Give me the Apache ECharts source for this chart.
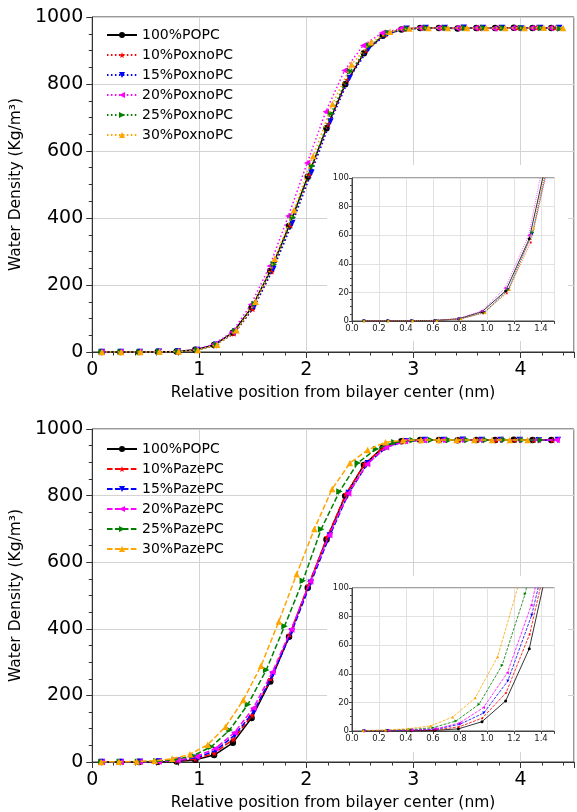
<!DOCTYPE html>
<html>
<head>
<meta charset="utf-8">
<script src="https://cdn.jsdelivr.net/npm/echarts@6/dist/echarts.min.js"></script>
<style>
  html, body { margin: 0; padding: 0; background: #fff; }
  #chart { width: 577px; height: 812px; }
</style>
</head>
<body>
<div id="chart"></div>
<script>
// ---- data ----
const xLabel = 'Relative position from bilayer center (nm)';
const yLabel = 'Water Density (Kg/m³)';

const namesTop = ['100%POPC', '10%PoxnoPC', '15%PoxnoPC', '20%PoxnoPC', '25%PoxnoPC', '30%PoxnoPC'];
const namesBottom = ['100%POPC', '10%PazePC', '15%PazePC', '20%PazePC', '25%PazePC', '30%PazePC'];

const xPOPC = [0.088, 0.263, 0.438, 0.613, 0.788, 0.963, 1.138, 1.313, 1.488, 1.663, 1.838, 2.013, 2.188, 2.363, 2.538, 2.713, 2.888, 3.063, 3.238, 3.413, 3.588, 3.763, 3.938, 4.113, 4.288];
const yPOPC = [0.1, 0.1, 0.2, 0.4, 1.5, 6.5, 21, 57.5, 132, 242, 376, 523, 668, 799, 892, 944, 963, 967, 967, 966, 967, 967, 968, 967, 967];

// oxidised (PoxnoPC) series
const x10ox = [0.088, 0.265, 0.441, 0.618, 0.794, 0.971, 1.147, 1.324, 1.500, 1.677, 1.853, 2.030, 2.206, 2.383, 2.559, 2.736, 2.912, 3.089, 3.265, 3.442, 3.618, 3.795, 3.971, 4.148, 4.324];
const y10ox = [0.1, 0.1, 0.2, 0.4, 1.3, 5.5, 19.5, 55, 128, 240, 378, 528, 680, 812, 900, 948, 964, 967, 967, 967, 966, 967, 967, 968, 967];
const x15ox = [0.089, 0.267, 0.445, 0.623, 0.801, 0.979, 1.157, 1.335, 1.513, 1.691, 1.869, 2.047, 2.225, 2.403, 2.581, 2.759, 2.937, 3.115, 3.293, 3.471, 3.649, 3.827, 4.005, 4.183, 4.361];
const y15ox = [0.1, 0.1, 0.2, 0.4, 1.4, 6, 22, 61, 135, 248, 385, 535, 688, 818, 905, 950, 965, 967, 967, 968, 967, 967, 966, 967, 967];
const x20ox = [0.087, 0.262, 0.436, 0.611, 0.785, 0.960, 1.134, 1.309, 1.483, 1.658, 1.832, 2.007, 2.181, 2.356, 2.530, 2.705, 2.879, 3.054, 3.228, 3.403, 3.577, 3.752, 3.926, 4.101, 4.275];
const y20ox = [0.1, 0.1, 0.2, 0.4, 1.6, 7, 23, 60, 142, 257, 406, 564, 717, 840, 915, 952, 965, 967, 967, 967, 967, 966, 967, 967, 967];
const x25ox = [0.089, 0.268, 0.446, 0.625, 0.803, 0.982, 1.160, 1.339, 1.517, 1.696, 1.874, 2.053, 2.231, 2.410, 2.588, 2.767, 2.945, 3.124, 3.302, 3.481, 3.659, 3.838, 4.016, 4.195, 4.373];
const y25ox = [0.1, 0.1, 0.2, 0.4, 1.5, 6, 22, 62, 143, 262, 402, 555, 712, 838, 915, 953, 965, 967, 967, 967, 968, 967, 967, 967, 966];
const x30ox = [0.090, 0.269, 0.449, 0.628, 0.808, 0.987, 1.167, 1.346, 1.526, 1.705, 1.885, 2.064, 2.244, 2.423, 2.603, 2.782, 2.962, 3.141, 3.321, 3.500, 3.680, 3.859, 4.039, 4.218, 4.398];
const y30ox = [0.1, 0.1, 0.2, 0.4, 1.6, 6, 22, 65, 150, 278, 424, 585, 740, 858, 925, 956, 966, 967, 967, 967, 967, 967, 967, 968, 967];

// azelaoyl (PazePC) series
const x10az = [0.088, 0.263, 0.439, 0.614, 0.790, 0.965, 1.141, 1.316, 1.492, 1.667, 1.843, 2.018, 2.194, 2.369, 2.545, 2.720, 2.896, 3.071, 3.247, 3.422, 3.598, 3.773, 3.949, 4.124, 4.300];
const y10az = [0.1, 0.2, 0.4, 0.8, 2.8, 9, 26.7, 67.7, 140, 250, 382, 530, 675, 805, 895, 945, 963, 967, 967, 967, 968, 967, 967, 967, 966];
const x15az = [0.089, 0.266, 0.444, 0.621, 0.799, 0.976, 1.154, 1.331, 1.509, 1.686, 1.864, 2.041, 2.219, 2.396, 2.574, 2.751, 2.929, 3.106, 3.284, 3.461, 3.639, 3.816, 3.994, 4.171, 4.349];
const y15az = [0.2, 0.3, 0.6, 1.2, 4.7, 12.6, 35, 81, 152, 262, 392, 538, 680, 808, 897, 946, 963, 967, 967, 968, 967, 967, 967, 966, 967];
const x20az = [0.089, 0.266, 0.443, 0.620, 0.797, 0.974, 1.151, 1.328, 1.505, 1.682, 1.859, 2.036, 2.213, 2.390, 2.567, 2.744, 2.921, 3.098, 3.275, 3.452, 3.629, 3.806, 3.983, 4.160, 4.337];
const y20az = [0.2, 0.3, 0.7, 1.5, 5.6, 16.4, 40.7, 88, 162, 270, 398, 542, 682, 806, 895, 945, 963, 966, 967, 967, 967, 968, 967, 967, 967];
const x25az = [0.086, 0.257, 0.428, 0.599, 0.770, 0.941, 1.112, 1.283, 1.454, 1.625, 1.796, 1.967, 2.138, 2.309, 2.480, 2.651, 2.822, 2.993, 3.164, 3.335, 3.506, 3.677, 3.848, 4.019, 4.190];
const y25az = [0.2, 0.5, 1.0, 2.3, 7, 18.7, 46, 96, 173, 276, 408, 544, 699, 812, 898, 940, 960, 966, 967, 967, 967, 967, 968, 967, 967];
const x30az = [0.083, 0.249, 0.415, 0.581, 0.747, 0.913, 1.079, 1.245, 1.411, 1.577, 1.743, 1.909, 2.075, 2.241, 2.407, 2.573, 2.739, 2.905, 3.071, 3.237, 3.403, 3.569, 3.735, 3.901, 4.067];
const y30az = [0.3, 0.7, 1.6, 3.5, 9.8, 23.2, 52, 106, 186, 289, 422, 564, 700, 820, 898, 937, 960, 966, 967, 967, 967, 967, 967, 967, 967];

// ---- styles ----
const FONT = 'DejaVu Sans';
const colors = ['#000000', '#ff0000', '#0000ff', '#ff00ff', '#008000', '#ffa500'];
const STAR = 'path://M5,0L6.2,3.6L10,3.8L7,6.1L8.1,9.8L5,7.6L1.9,9.8L3,6.1L0,3.8L3.8,3.6Z';
const symbols = ['circle', STAR, 'path://M0,0L10,0L5,10Z', 'path://M10,0L10,10L0,5Z', 'path://M0,0L0,10L10,5Z', 'triangle'];

const panels = [
  { main: 0, inset: 1, names: namesTop, dash: 'dot',
    xs: [xPOPC, x10ox, x15ox, x20ox, x25ox, x30ox],
    ys: [yPOPC, y10ox, y15ox, y20ox, y25ox, y30ox] },
  { main: 2, inset: 3, names: namesBottom, dash: 'dash',
    xs: [xPOPC, x10az, x15az, x20az, x25az, x30az],
    ys: [yPOPC, y10az, y15az, y20az, y25az, y30az] }
];

function pairs(xs, ys) { return xs.map((x, i) => [x, ys[i]]); }

function lineType(dash, i, w) {
  if (i === 0) return 'solid';
  return dash === 'dot' ? [w, w * 1.65] : [w * 3.7, w * 1.6];
}

const chart = echarts.init(document.getElementById('chart'), null, { renderer: 'canvas' });

const grids = [
  { left: 92, top: 17, width: 486, height: 335, show: true, borderColor: '#333', borderWidth: 1 },
  { left: 352, top: 178, width: 202.5, height: 143, show: true, borderColor: '#444', borderWidth: 1, backgroundColor: '#fff', z: 3 },
  { left: 92, top: 429, width: 486, height: 335, show: true, borderColor: '#333', borderWidth: 1 },
  { left: 352, top: 588, width: 202.5, height: 143, show: true, borderColor: '#444', borderWidth: 1, backgroundColor: '#fff', z: 3 }
];

const xAxes = [], yAxes = [], series = [];

panels.forEach(p => {
  // main axes
  xAxes.push({
    type: 'value', gridIndex: p.main, min: 0, max: 4.5, interval: 1,
    name: xLabel, nameLocation: 'middle', nameGap: 33,
    nameTextStyle: { fontFamily: FONT, fontSize: 15.5, color: '#000' },
    axisLine: { onZero: false, lineStyle: { color: '#333', width: 1 } },
    axisTick: { length: 6, lineStyle: { color: '#333' } },
    minorTick: { show: true, splitNumber: 5, length: 3.5, lineStyle: { color: '#333' } },
    axisLabel: { fontFamily: FONT, fontSize: 19, color: '#000', margin: 9,
      formatter: v => Number.isInteger(v) ? String(v) : '' },
    splitLine: { show: true, lineStyle: { color: '#d3d3d3', width: 1 } }
  });
  yAxes.push({
    type: 'value', gridIndex: p.main, min: 0, max: 1000, interval: 200,
    name: yLabel, nameLocation: 'middle', nameGap: 58,
    nameTextStyle: { fontFamily: FONT, fontSize: 15.5, color: '#000' },
    axisLine: { show: true, lineStyle: { color: '#333', width: 1 } },
    axisTick: { show: true, length: 6, lineStyle: { color: '#333' } },
    minorTick: { show: true, splitNumber: 4, length: 3.5, lineStyle: { color: '#333' } },
    axisLabel: { fontFamily: FONT, fontSize: 19, color: '#000', margin: 9,
      formatter: v => String(v) },
    splitLine: { show: true, lineStyle: { color: '#d3d3d3', width: 1 } }
  });
  // inset axes
  xAxes.push({
    type: 'value', gridIndex: p.inset, min: 0, max: 1.5, interval: 0.2, z: 3,
    axisLine: { onZero: false, lineStyle: { color: '#444', width: 1 } },
    axisTick: { length: 3, lineStyle: { color: '#444' } },
    axisLabel: { fontFamily: FONT, fontSize: 8.5, color: '#222', margin: 3,
      formatter: v => Math.abs(v * 5 - Math.round(v * 5)) < 1e-6 ? v.toFixed(1) : '' },
    splitLine: { show: true, lineStyle: { color: '#e2e2e2', width: 1 } }
  });
  yAxes.push({
    type: 'value', gridIndex: p.inset, min: 0, max: 100, interval: 20, z: 3,
    axisLine: { show: true, lineStyle: { color: '#444', width: 1 } },
    axisTick: { show: true, length: 3, lineStyle: { color: '#444' } },
    minorTick: { show: true, splitNumber: 4, length: 2, lineStyle: { color: '#444' } },
    axisLabel: { fontFamily: FONT, fontSize: 8.5, color: '#222', margin: 3 },
    splitLine: { show: true, lineStyle: { color: '#e2e2e2', width: 1 } }
  });
});

panels.forEach((p, pi) => {
  const axMain = pi * 2, axInset = pi * 2 + 1;
  p.names.forEach((name, i) => {
    series.push({
      type: 'line', name: name, xAxisIndex: axMain, yAxisIndex: axMain,
      data: pairs(p.xs[i], p.ys[i]),
      symbol: symbols[i], symbolSize: 6.5, showSymbol: true,
      lineStyle: { color: colors[i], width: 1.5, type: lineType(p.dash, i, 1.5) },
      itemStyle: { color: colors[i] },
      z: 2 + 0.1 * i, animation: false, silent: true
    });
  });
  p.names.forEach((name, i) => {
    series.push({
      type: 'line', name: name, xAxisIndex: axInset, yAxisIndex: axInset,
      data: pairs(p.xs[i], p.ys[i]),
      symbol: symbols[i], symbolSize: 3, showSymbol: true, clip: true,
      lineStyle: { color: colors[i], width: 0.8, type: lineType(p.dash, i, 0.8) },
      itemStyle: { color: colors[i] },
      z: 5, animation: false, silent: true
    });
  });
});

const legendBase = {
  orient: 'vertical', left: 101, itemWidth: 30, itemHeight: 7.5, itemGap: 6,
  selectedMode: false,
  textStyle: { fontFamily: FONT, fontSize: 14, color: '#000' }
};

const option = {
  backgroundColor: '#fff',
  animation: false,
  grid: grids,
  xAxis: xAxes,
  yAxis: yAxes,
  legend: [
    Object.assign({}, legendBase, { top: 23, data: namesTop }),
    Object.assign({}, legendBase, { top: 437, data: namesBottom })
  ],
  graphic: [
    { type: 'rect', shape: { x: 327, y: 165, width: 241, height: 176 }, style: { fill: '#fff' }, z: 1 },
    { type: 'rect', shape: { x: 327, y: 576, width: 241, height: 176 }, style: { fill: '#fff' }, z: 1 }
  ],
  series: series
};

chart.setOption(option);
</script>
</body>
</html>
